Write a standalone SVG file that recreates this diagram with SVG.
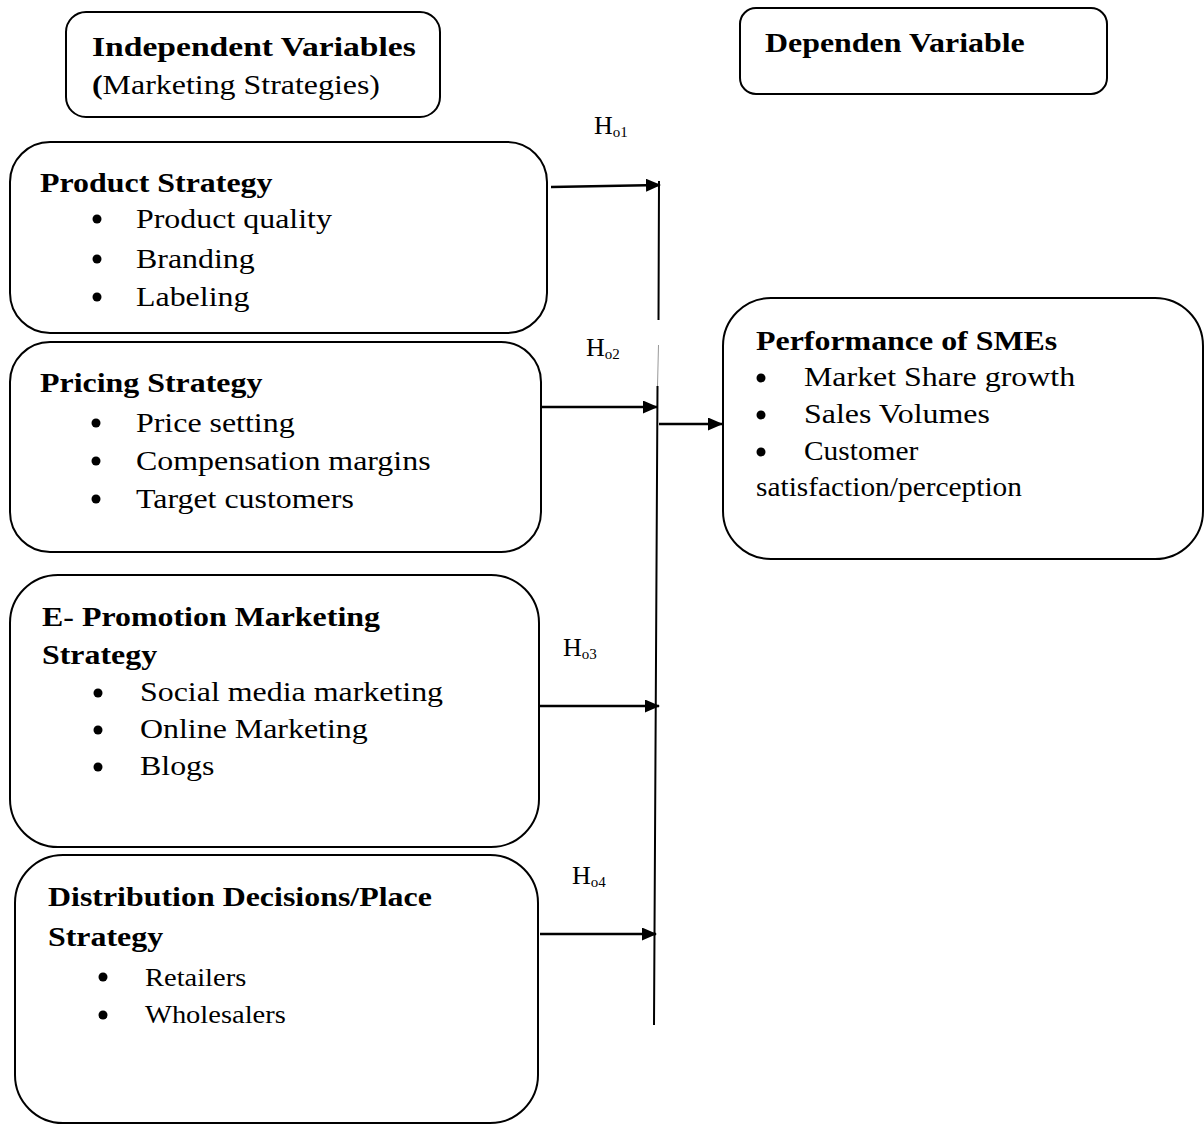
<svg xmlns="http://www.w3.org/2000/svg" width="1204" height="1124" viewBox="0 0 1204 1124">
<defs>
<marker id="ah" markerWidth="15" markerHeight="13" refX="14" refY="6.5" orient="auto" markerUnits="userSpaceOnUse"><path d="M0,0 L15,6.5 L0,13 Z" fill="#000"/></marker>
<style>
.box{fill:#fff;stroke:#000;stroke-width:2}
text{font-family:"Liberation Serif","Times New Roman",serif;fill:#000}
.t{font-size:28px;font-weight:bold}
.b{font-size:28px}
.s{font-size:25px}
.h{font-size:26px}
.sub{font-size:15px}
.dot{fill:#000}
.ln{stroke:#000;stroke-width:2.5;fill:none}
.vl{stroke:#000;stroke-width:2;fill:none}
</style>
</defs>
<rect width="1204" height="1124" fill="#fff"/>
<g id="iv-header"><rect class="box" x="66" y="12" width="374" height="105" rx="20"/>
<text class="t" x="92" y="56" transform="matrix(1.2 0 0 1 -18.4 0)">Independent Variables</text>
<text class="b" x="92" y="94" transform="matrix(1.14 0 0 1 -12.88 0)"><tspan font-weight="bold">(</tspan>Marketing Strategies)</text></g>
<g id="dv-header"><rect class="box" x="740" y="8" width="367" height="86" rx="16"/>
<text class="t" x="765" y="52" transform="matrix(1.14 0 0 1 -107.1 0)">Dependen Variable</text></g>
<g id="product"><rect class="box" x="10" y="142" width="537" height="191" rx="40"/>
<text class="t" x="40" y="192" transform="matrix(1.14 0 0 1 -5.6 0)">Product Strategy</text>
<circle class="dot" cx="97" cy="219" r="4.5"/><circle class="dot" cx="97" cy="259" r="4.5"/><circle class="dot" cx="97" cy="297" r="4.5"/>
<g transform="matrix(1.14 0 0 1 -19.04 0)">
<text class="b" x="136" y="228">Product quality</text>
<text class="b" x="136" y="268">Branding</text>
<text class="b" x="136" y="306">Labeling</text></g></g>
<g id="pricing"><rect class="box" x="10" y="342" width="531" height="210" rx="40"/>
<text class="t" x="40" y="392" transform="matrix(1.14 0 0 1 -5.6 0)">Pricing Strategy</text>
<circle class="dot" cx="96" cy="423" r="4.5"/><circle class="dot" cx="96" cy="461" r="4.5"/><circle class="dot" cx="96" cy="499" r="4.5"/>
<g transform="matrix(1.14 0 0 1 -19.04 0)">
<text class="b" x="136" y="432">Price setting</text>
<text class="b" x="136" y="470">Compensation margins</text>
<text class="b" x="136" y="508">Target customers</text></g></g>
<g id="promotion"><rect class="box" x="10" y="575" width="529" height="272" rx="48"/>
<g transform="matrix(1.14 0 0 1 -5.88 0)">
<text class="t" x="42" y="626">E- Promotion Marketing</text>
<text class="t" x="42" y="664">Strategy</text></g>
<circle class="dot" cx="98" cy="693" r="4.5"/><circle class="dot" cx="98" cy="730" r="4.5"/><circle class="dot" cx="98" cy="767" r="4.5"/>
<g transform="matrix(1.14 0 0 1 -19.6 0)">
<text class="b" x="140" y="701">Social media marketing</text>
<text class="b" x="140" y="738">Online Marketing</text>
<text class="b" x="140" y="775">Blogs</text></g></g>
<g id="distribution"><rect class="box" x="15" y="855" width="523" height="268" rx="48"/>
<g transform="matrix(1.14 0 0 1 -6.72 0)">
<text class="t" x="48" y="906">Distribution Decisions/Place</text>
<text class="t" x="48" y="946">Strategy</text></g>
<circle class="dot" cx="103" cy="977" r="4.5"/><circle class="dot" cx="103" cy="1015" r="4.5"/>
<g transform="matrix(1.14 0 0 1 -20.3 0)">
<text class="s" x="145" y="986">Retailers</text>
<text class="s" x="145" y="1023">Wholesalers</text></g></g>
<g id="performance"><rect class="box" x="723" y="298" width="480" height="261" rx="48"/>
<text class="t" x="756" y="350" transform="matrix(1.14 0 0 1 -105.84 0)">Performance of SMEs</text>
<circle class="dot" cx="761" cy="378" r="4.5"/><circle class="dot" cx="761" cy="415" r="4.5"/><circle class="dot" cx="761" cy="452" r="4.5"/>
<g transform="matrix(1.14 0 0 1 -112.56 0)">
<text class="b" x="804" y="386">Market Share growth</text>
<text class="b" x="804" y="423">Sales Volumes</text></g>
<text class="b" x="804" y="460" transform="matrix(1.05 0 0 1 -40.2 0)">Customer</text>
<text class="b" x="756" y="496" transform="matrix(1.05 0 0 1 -37.8 0)">satisfaction/perception</text></g>
<g id="labels">
<text class="h" x="594" y="134">H<tspan class="sub" dy="3">o1</tspan></text>
<text class="h" x="586" y="356">H<tspan class="sub" dy="3">o2</tspan></text>
<text class="h" x="563" y="656">H<tspan class="sub" dy="3">o3</tspan></text>
<text class="h" x="572" y="884">H<tspan class="sub" dy="3">o4</tspan></text>
</g>
<g id="connectors">
<path class="vl" d="M659,181 L658.5,320 M657.5,386 L654,1025"/>
<path d="M658.5,345 L657.5,386" stroke="#999" stroke-width="1" fill="none"/>
<line class="ln" x1="551" y1="187" x2="660" y2="185" marker-end="url(#ah)"/>
<line class="ln" x1="541" y1="407" x2="657" y2="407" marker-end="url(#ah)"/>
<line class="ln" x1="659" y1="424" x2="722" y2="424" marker-end="url(#ah)"/>
<line class="ln" x1="540" y1="706" x2="659" y2="706" marker-end="url(#ah)"/>
<line class="ln" x1="540" y1="934" x2="656" y2="934" marker-end="url(#ah)"/>
</g>
</svg>
